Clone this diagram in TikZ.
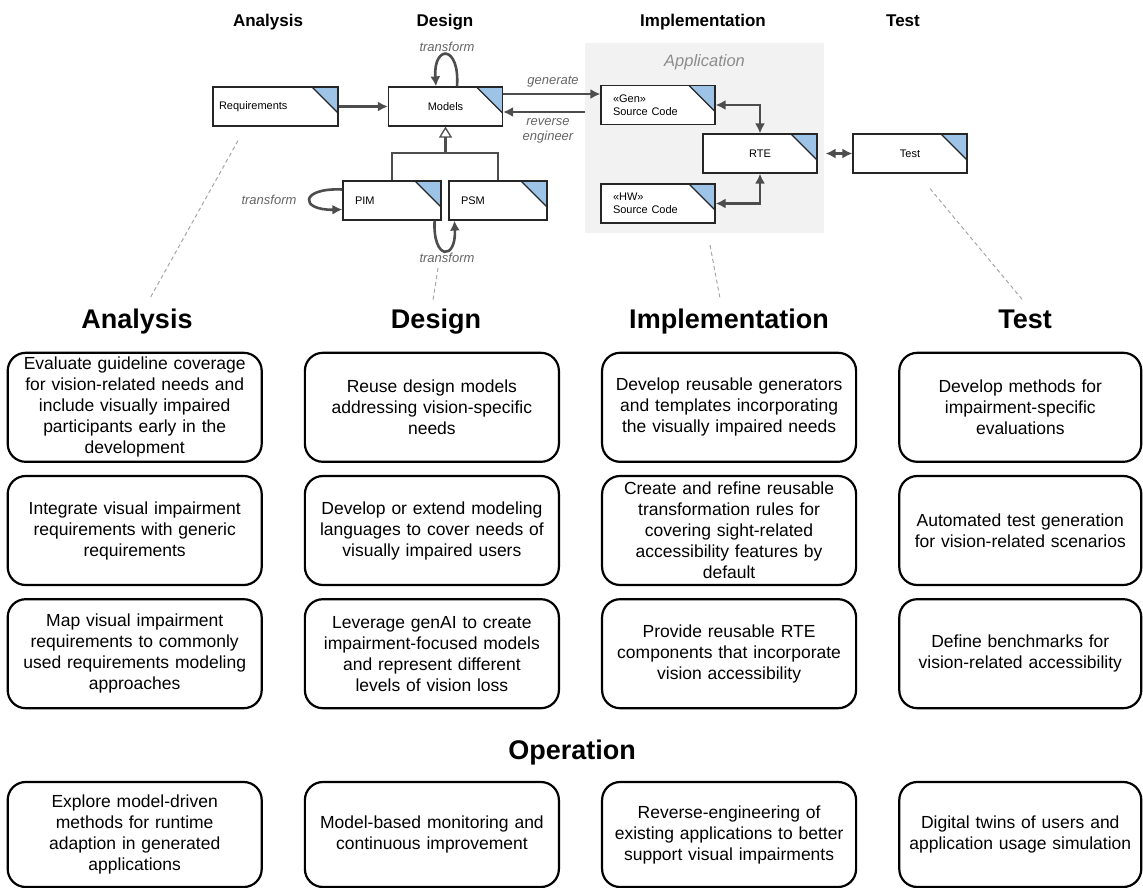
\documentclass[tikz,border=0pt]{standalone}
\usepackage{fontspec}
\setmainfont{Liberation Sans}
\usetikzlibrary{matrix,arrows.meta,positioning}

\definecolor{corner}{HTML}{9DC3E6}
\definecolor{wire}{HTML}{4D4D4D}
\definecolor{appbg}{HTML}{F2F2F2}
\definecolor{notegray}{HTML}{666666}
\definecolor{appgray}{HTML}{8C8C8C}
\definecolor{guidegray}{HTML}{A6A6A6}

\tikzset{
 artefact/.style={rectangle, draw=black!85, fill=white, line width=1.2pt, minimum height=39pt,
   inner xsep=12pt, inner ysep=0pt, text width=90pt, align=left, font=\fontsize{11}{13}\selectfont,
   path picture={\fill[corner] (path picture bounding box.north east) -- ++(-26pt,0pt) -- ++(26pt,-26pt) -- cycle;
     \draw[black!85, line width=1.2pt] ([xshift=-26pt]path picture bounding box.north east) -- ++(26pt,-26pt);}},
 flow/.style={draw=wire, line width=2.6pt, -{Latex[length=10pt,width=10pt]}},
 flowboth/.style={draw=wire, line width=2.6pt, {Latex[length=10pt,width=10pt]}-{Latex[length=10pt,width=10pt]}},
 wireline/.style={draw=wire, line width=2.6pt},
 inherit/.style={draw=wire, line width=2.6pt, -{Triangle[open,length=11pt,width=13pt,line width=1.3pt]}},
 note/.style={inner sep=0pt, text=notegray, font=\fontsize{13}{15}\selectfont\itshape, align=center},
 phase/.style={inner sep=0pt, anchor=base, font=\fontsize{17}{20}\selectfont\bfseries},
 stage/.style={inner sep=0pt, anchor=base, font=\fontsize{27}{32}\selectfont\bfseries},
 guide/.style={draw=guidegray, line width=1pt, dash pattern=on 4pt off 3pt},
 goal/.style={rectangle, draw=black, line width=2.2pt, rounded corners=18pt, minimum height=109pt,
   text width=246pt, inner xsep=4pt, inner ysep=2pt, align=center, anchor=center,
   font=\fontsize{17.5}{21}\selectfont}
}

\begin{document}
\begin{tikzpicture}[x=1pt,y=-1pt]
\useasboundingbox (0,0) rectangle (1143,888);

% phases
\node[phase] (pA) at (268,27) {Analysis};
\node[phase] (pD) at (445,27) {Design};
\node[phase] (pI) at (703,27) {Implementation};
\node[phase] (pT) at (903,27) {Test};

% application container
\node[fill=appbg, minimum width=239pt, minimum height=190pt, inner sep=0pt] (app) at (704.5,138) {};
\node[inner sep=0pt, text=appgray, font=\fontsize{16.5}{19}\selectfont\itshape] at ([yshift=-19pt]app.north) {Application};

% artefacts
\node[artefact, inner xsep=6pt, text width=113pt] (req) at (275.5,106.5) {Requirements};
\node[artefact, align=center] (models) at (445.5,106.5) {Models};
\node[artefact, text width=74pt] (pim) at (392,200.5) {PIM};
\node[artefact, text width=74pt] (psm) at (498,200.5) {PSM};
\node[artefact] (gen) at (658,105) {«Gen»\\Source Code};
\node[artefact, align=center] (rte) at (760,153.5) {RTE};
\node[artefact] (hw) at (658,203.5) {«HW»\\Source Code};
\node[artefact, align=center] (test) at (910,153.5) {Test};

% connectors
\draw[flow] (req) -- (models);
\draw[flow] ([xshift=11.5pt]models.north) .. controls +(3,-42) and +(-3,-42) .. ([xshift=-9.5pt]models.north);
\node[note] (tA) at (447,47) {transform};
\draw[flow] ([yshift=12.5pt]models.east) -- ([yshift=11pt]gen.west);
\node[note] at (553,82) {generate};
\draw[flow] ([yshift=26pt]app.west) -- ([yshift=-5.5pt]models.east);
\node[note] at (548,130.5) {reverse\\engineer};
\coordinate (fork) at (445.5,153);
\draw[wireline] (pim.north) |- (fork) -| (psm.north);
\draw[inherit] (fork) -- (models.south);
\draw[flow] ([yshift=11pt]pim.west) .. controls +(-43,-2) and +(-43,1) .. ([yshift=-9pt]pim.west);
\node[note] at (269,200) {transform};
\draw[flow] ([xshift=-7pt]pim.south east) .. controls +(-2,40) and +(2,40) .. ([xshift=6pt]psm.south west);
\node[note] (tB) at (447,258) {transform};
\draw[flowboth] (gen.east) -| (rte.north);
\draw[flowboth] (hw.east) -| (rte.south);
\draw[flowboth, shorten <=8pt] (rte.east) -- (test.west);

% stages
\node[stage] (hA) at (137,328) {Analysis};
\node[stage] (hD) at (436,328) {Design};
\node[stage] (hI) at (729,328) {Implementation};
\node[stage] (hT) at (1025,328) {Test};
\node[stage] (hO) at (572,759) {Operation};

\draw[guide] ([xshift=-37.5pt,yshift=-14pt]req.south) -- ([xshift=13pt,yshift=10pt]hA.north);
\draw[guide] ([xshift=-9pt,yshift=-5pt]tB.south) -- ([xshift=-3pt,yshift=8pt]hD.north);
\draw[guide] ([xshift=5.5pt,yshift=-12pt]app.south) -- ([xshift=-9pt,yshift=10pt]hI.north);
\draw[guide] ([xshift=20pt,yshift=-15pt]test.south) -- ([xshift=-3pt,yshift=10pt]hT.north);

\matrix (task) [matrix of nodes, column sep=41pt, row sep=12pt, nodes={goal},
  column 4/.style={nodes={text width=234pt}}] at (574.5,530.5)
{
 {Evaluate guideline coverage\\for vision-related needs and\\include visually impaired\\participants early in the\\development} &
 {Reuse design models\\addressing vision-specific\\needs} &
 {Develop reusable generators\\and templates incorporating\\the visually impaired needs} &
 {Develop methods for\\impairment-specific\\evaluations} \\
 {Integrate visual impairment\\requirements with generic\\requirements} &
 {Develop or extend modeling\\languages to cover needs of\\visually impaired users} &
 {Create and refine reusable\\transformation rules for\\covering sight-related\\accessibility features by\\default} &
 {Automated test generation\\for vision-related scenarios} \\
 {Map visual impairment\\requirements to commonly\\used requirements modeling\\approaches} &
 {Leverage genAI to create\\impairment-focused models\\and represent different\\levels of vision loss} &
 {Provide reusable RTE\\components that incorporate\\vision accessibility} &
 {Define benchmarks for\\vision-related accessibility} \\
};

\matrix (op) [matrix of nodes, column sep=41pt, nodes={goal, minimum height=105pt},
  column 4/.style={nodes={text width=234pt}}] at (574.5,834.5)
{
 {Explore model-driven\\methods for runtime\\adaption in generated\\applications} &
 {Model-based monitoring and\\continuous improvement} &
 {Reverse-engineering of\\existing applications to better\\support visual impairments} &
 {Digital twins of users and\\application usage simulation} \\
};
\end{tikzpicture}
\end{document}
